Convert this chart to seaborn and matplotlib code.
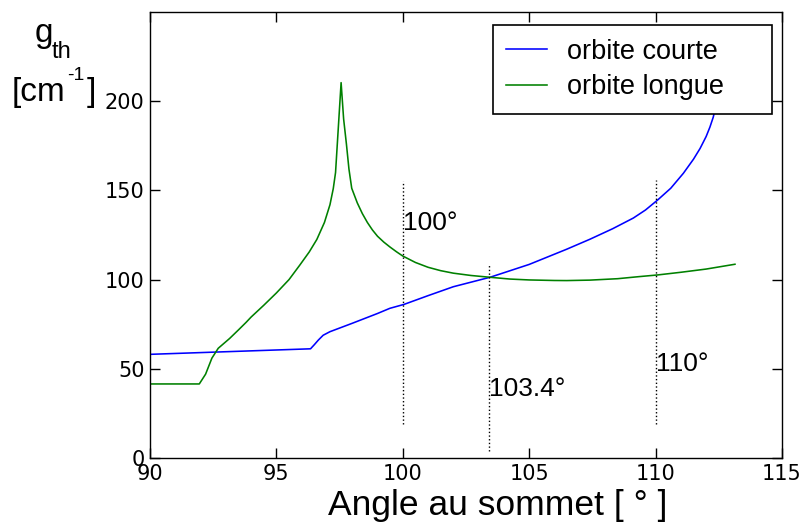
import numpy as np
import pandas as pd
import matplotlib
matplotlib.use('Agg')
import matplotlib.pyplot as plt
import seaborn as sns

# ================= 数据 =================
# orbite courte (bleu)
x_courte = [90.0, 96.35, 96.5, 96.66, 96.85, 97.12, 98.0, 99.0, 99.49, 100.05, 101.0, 102.0,
            103.45, 103.84, 105.0, 106.48, 107.4, 108.3, 109.12, 109.6, 110.08, 110.6,
            111.1, 111.5, 111.76, 112.0, 112.15, 112.28, 112.4, 112.5]
g_courte = [58.1, 61.2, 63.5, 66.1, 68.8, 70.8, 75.5, 81.0, 83.9, 86.1, 91.0, 96.0,
            101.3, 103.1, 108.5, 117.0, 122.6, 128.5, 134.5, 139.0, 144.6, 151.2,
            159.6, 167.5, 173.5, 180.2, 185.5, 191.0, 198.0, 210.0]

# orbite longue (vert)
x_longue = [90.0, 91.95, 92.2, 92.45, 92.7, 93.15, 93.5, 93.8, 94.0, 94.5, 95.0, 95.5,
            95.93, 96.3, 96.6, 96.9, 97.12, 97.25, 97.34, 97.56, 97.66, 97.77, 97.87,
            97.98, 98.2, 98.4, 98.6, 98.8, 99.0, 99.25, 99.49, 99.75, 100.0, 100.5,
            101.0, 101.5, 102.0, 102.7, 103.45, 104.24, 105.0, 106.0, 106.48, 107.4,
            108.5, 109.3, 110.08, 111.0, 112.0, 112.55, 113.14]
g_longue = [41.5, 41.5, 47.0, 56.0, 61.5, 67.0, 71.8, 76.0, 79.0, 85.6, 92.5, 100.0,
            108.2, 115.5, 122.5, 132.0, 142.0, 151.0, 160.0, 210.4, 190.0, 176.0, 162.0,
            151.2, 143.0, 137.0, 132.0, 127.8, 124.3, 121.0, 118.3, 115.6, 113.2, 109.6,
            106.9, 105.0, 103.6, 102.3, 101.3, 100.3, 99.8, 99.5, 99.45, 99.7,
            100.5, 101.6, 102.6, 104.1, 105.9, 107.2, 108.6]

# repères verticaux
repere_x = [100.0, 103.4, 110.0]
repere_bas = [19.0, 4.0, 19.0]
repere_haut = [155.0, 108.6, 156.0]
repere_txt = ['100°', '103.4°', '110°']
repere_txt_y = [128.0, 35.0, 48.5]

x_ticks = [90, 95, 100, 105, 110, 115]
y_ticks = [0, 50, 100, 150, 200]

# ================= 图 =================
plt.rcParams['axes.linewidth'] = 1.0
LAB_FONT = 'Liberation Sans'

fig = plt.figure(figsize=(8.09, 5.26), dpi=100)
ax = fig.add_axes([0.1854, 0.1293, 0.7812, 0.8479])

df_c = pd.DataFrame({'angle': x_courte, 'g': g_courte})
df_l = pd.DataFrame({'angle': x_longue, 'g': g_longue})
sns.lineplot(data=df_c, x='angle', y='g', color='#0000ff', lw=1.15, sort=False,
             estimator=None, label='orbite courte', ax=ax)
sns.lineplot(data=df_l, x='angle', y='g', color='#008000', lw=1.15, sort=False,
             estimator=None, label='orbite longue', ax=ax)

for xv, lo, hi, txt, ty in zip(repere_x, repere_bas, repere_haut, repere_txt, repere_txt_y):
    ax.plot([xv, xv], [lo, hi], color='black', ls=':', lw=1.0)
    ax.text(xv, ty, txt, ha='left', va='baseline', fontsize=19, family=LAB_FONT)

ax.set_xlim(90, 115)
ax.set_ylim(0, 250)
ax.set_xticks(x_ticks)
ax.set_yticks(y_ticks)
ax.tick_params(direction='in', top=True, right=True, length=7, width=1,
               labelsize=15, pad=4)

ax.set_xlabel('Angle au sommet [ ° ]', fontsize=25.5, family=LAB_FONT)
ax.xaxis.label.set_va('baseline')
ax.xaxis.set_label_coords(0.55, -0.128)
ax.set_ylabel('')

# g_th [cm-1] en haut à gauche
W, H = 809, 526
fig.text(35 / W, 1 - 42 / H, 'g', ha='left', va='baseline', fontsize=24, family=LAB_FONT)
fig.text(52 / W, 1 - 58 / H, 'th', ha='left', va='baseline', fontsize=17, family=LAB_FONT)
fig.text(12 / W, 1 - 101 / H, '[cm', ha='left', va='baseline', fontsize=24, family=LAB_FONT)
fig.text(67 / W, 1 - 80 / H, '-1', ha='left', va='baseline', fontsize=14, family=LAB_FONT)
fig.text(87 / W, 1 - 101 / H, ']', ha='left', va='baseline', fontsize=24, family=LAB_FONT)

leg = ax.legend(loc='upper right', bbox_to_anchor=(0.5422, 0.7735, 0.442, 0.1974),
                mode='expand', borderaxespad=0, fancybox=False, framealpha=1,
                edgecolor='black', handlelength=1.5, handletextpad=0.75,
                labelspacing=0.35, borderpad=0.5,
                prop={'family': LAB_FONT, 'size': 19.5})
leg.get_frame().set_linewidth(1.2)

fig.savefig('out.png', dpi=100)
